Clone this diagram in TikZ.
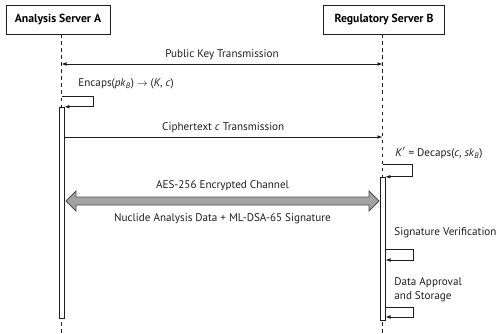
\documentclass[tikz,border=0pt]{standalone}
\usepackage{fontspec}
\setmainfont{PT Sans}
\usepackage{tikz}
\usetikzlibrary{arrows.meta,positioning,calc}
\definecolor{ink}{HTML}{1E1E1E}
\definecolor{chanfill}{HTML}{A3A3A3}
\definecolor{chanedge}{HTML}{4F4F4F}
\tikzset{
  actor/.style={draw=ink, fill=white, minimum height=0.87cm, inner sep=3pt, font=\normalsize\bfseries},
  lifeline/.style={dashed, ink, line width=0.5pt},
  actbar/.style={draw=ink, fill=white, minimum width=0.16cm, inner sep=0pt},
  msg/.style={-{Latex[length=1.5mm,width=1.1mm]}, ink, line width=0.6pt},
  lbl/.style={font=\fontsize{9.5}{11.5}\selectfont, text=ink, inner sep=1pt},
  channel/.style={draw=chanedge, fill=chanfill, line width=0.8pt},
}

\begin{document}
\begin{tikzpicture}[x=0.03cm,y=-0.03cm]
  \useasboundingbox (0,0) rectangle (500,334);
  % participants
  \node[actor, minimum width=3.12cm] (srvA) at (58,19.5) {Analysis Server A};
  \node[actor, minimum width=3.63cm] (srvB) at (384,19.5) {Regulatory Server B};
  \coordinate (endA) at (61.5,334);
  \coordinate (endB) at (382.5,334);
  \draw[lifeline] ([xshift=0.105cm]srvA.south) -- (endA);
  \draw[lifeline] ([xshift=-0.045cm]srvB.south) -- (endB);
  % activation bars
  \node[actbar, minimum height=6.33cm] (actA) at (61.5,212.5) {};
  \node[actbar, minimum height=4.29cm] (actB) at (382.5,248.5) {};

  % public key exchange
  \coordinate (pkA) at (61.5,64);
  \coordinate (pkB) at (382.5,64);
  \draw[msg, {Latex[length=1.5mm,width=1.1mm]}-{Latex[length=1.5mm,width=1.1mm]}] (pkA) -- (pkB)
    node[lbl, midway, above=2pt] (pkL) {Public Key Transmission};

  % encapsulation on A
  \node[lbl, anchor=west] (encL) at (77,84) {Encaps(\textit{pk}\textsubscript{\textit{B}}) $\rightarrow$ (\textit{K}, \textit{c})};
  \coordinate (encS) at (61.5,96);
  \draw[msg] (encS) -- ++(32,0) |- (actA.north east);

  % ciphertext
  \coordinate (ctA) at (64,137);
  \coordinate (ctB) at (382.5,137);
  \draw[msg] (ctA) -- (ctB)
    node[lbl, midway, above=2pt] (ctL) {Ciphertext \textit{c} Transmission};

  % decapsulation on B
  \node[lbl, anchor=west] (decL) at (394,153) {\textit{K}$'$ = Decaps(\textit{c}, \textit{sk}\textsubscript{\textit{B}})};
  \coordinate (decS) at (382.5,164);
  \draw[msg] (decS) -- ++(30,0) |- (actB.north east);

  % encrypted channel
  \coordinate (chL) at (66,201);
  \coordinate (chR) at (379,201);
  \draw[channel] (chL) -- ++(10,-10) -- ++(0,6) -- ($(chR)+(-10,-4)$) -- ++(0,-6)
    -- (chR) -- ++(-10,10) -- ++(0,-6) -- ($(chL)+(10,4)$) -- ++(0,6) -- cycle;
  \node[lbl] (chL1) at (222.5,186) {AES-256 Encrypted Channel};
  \node[lbl] (chL2) at (222.5,219) {Nuclide Analysis Data + ML-DSA-65 Signature};

  % verification and storage on B
  \node[lbl, anchor=west] (svL) at (393,233) {Signature Verification};
  \coordinate (svS) at (385.5,249);
  \coordinate (svE) at (385.5,260);
  \draw[msg] (svS) -- ++(28,0) |- (svE);
  \node[lbl, anchor=west, align=left] (stL) at (393,289.5) {Data Approval\\and Storage};
  \coordinate (stS) at (385.5,307);
  \coordinate (stE) at (385.5,317);
  \draw[msg] (stS) -- ++(28,0) |- (stE);
\end{tikzpicture}
\end{document}
